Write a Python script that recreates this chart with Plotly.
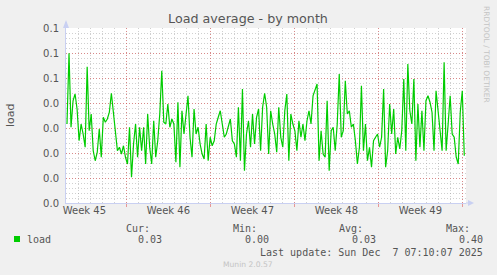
import pandas as pd
import plotly.graph_objects as go

# ---- data ----
load_values = [
    0.0316, 0.0599, 0.0303, 0.0409, 0.0436, 0.0376, 0.0249, 0.0316, 0.0276, 0.0223,
    0.0545, 0.0289, 0.0356, 0.0209, 0.0169, 0.0203, 0.0296, 0.0183, 0.0343, 0.0323,
    0.0336, 0.0363, 0.0439, 0.0369, 0.0289, 0.0209, 0.0223, 0.0196, 0.0229, 0.0183,
    0.0156, 0.0303, 0.0103, 0.0236, 0.0316, 0.0183, 0.0303, 0.0209, 0.0303, 0.0156,
    0.0356, 0.0223, 0.0156, 0.0329, 0.0183, 0.0249, 0.0356, 0.0529, 0.0323, 0.0316,
    0.0396, 0.0303, 0.0336, 0.0316, 0.0163, 0.0403, 0.0143, 0.0369, 0.0276, 0.0369,
    0.0429, 0.0263, 0.0183, 0.0376, 0.0276, 0.0303, 0.0236, 0.0196, 0.0176, 0.0316,
    0.0169, 0.0263, 0.0229, 0.0249, 0.0316, 0.0343, 0.0369, 0.0316, 0.0263,
    0.0276, 0.0303, 0.0336, 0.0249, 0.0236, 0.0183, 0.0383, 0.0169, 0.0456, 0.0129,
    0.0276, 0.0329, 0.0223, 0.0356, 0.0236, 0.0343, 0.0376, 0.0209, 0.0383, 0.0439,
    0.0383, 0.0196, 0.0369, 0.0316, 0.0276, 0.0203, 0.0383, 0.0263, 0.0223, 0.0369,
    0.0436, 0.0169, 0.0356, 0.0316, 0.0289, 0.0209, 0.0329, 0.0263, 0.0316, 0.0249,
    0.0329, 0.0369, 0.0316, 0.0429, 0.0449, 0.0476, 0.0169, 0.0289, 0.0196, 0.0183,
    0.0409, 0.0129, 0.0289, 0.0303, 0.0209, 0.0316, 0.0516, 0.0263, 0.0289, 0.0489,
    0.0356, 0.0369, 0.0303, 0.0316, 0.0249, 0.0156, 0.0223, 0.0469, 0.0209, 0.0316,
    0.0169, 0.0223, 0.0143, 0.0249, 0.0263, 0.0276, 0.0223, 0.0263, 0.0456,
    0.0143, 0.0209, 0.0396, 0.0276, 0.0376, 0.0196, 0.0263, 0.0216, 0.0289, 0.0496,
    0.0209, 0.0556, 0.0369, 0.0316, 0.0496, 0.0169, 0.0396, 0.0223, 0.0369, 0.0209,
    0.0409, 0.0429, 0.0403, 0.0363, 0.0209, 0.0449, 0.0376, 0.0303, 0.0209, 0.0563,
    0.0209, 0.0316, 0.0429, 0.0276, 0.0263, 0.0183, 0.0156, 0.0363, 0.0449, 0.0189,
]
series_start = "2025-11-04 01:10"
series_step = "242min"
times = pd.date_range(series_start, periods=len(load_values), freq=series_step)

range_start = "2025-11-03 23:10:07"
range_end = "2025-12-07 07:10:07"

week_lines = ["2025-11-09", "2025-11-16", "2025-11-23", "2025-11-30", "2025-12-07"]
week_label_pos = ["2025-11-05 12:00", "2025-11-12 12:00", "2025-11-19 12:00",
                  "2025-11-26 12:00", "2025-12-03 12:00"]
week_labels = ["Week 45", "Week 46", "Week 47", "Week 48", "Week 49"]

y_ticks = [0.0, 0.01, 0.02, 0.03, 0.04, 0.05, 0.06, 0.07]
y_labels = ["0.0", "0.0", "0.0", "0.0", "0.0", "0.1", "0.1", "0.1"]

stat_names = ["Cur:", "Min:", "Avg:", "Max:"]
stat_values = ["0.03", "0.00", "0.03", "0.40"]
series_name = "load"
last_update = "Last update: Sun Dec  7 07:10:07 2025"

# ---- figure ----
W, H = 497, 275
L, R, T, B = 66, 466, 28, 203
def px(x):
    return (x - L) / (R - L)
def py(y):
    return (B - y) / (B - T)

GREEN = "#00CC00"
MGRID = "rgba(222,79,79,0.55)"
GRID = "rgba(150,150,150,0.45)"
AXIS = "#c9d0f2"
TXT = "#555555"

fig = go.Figure()
fig.add_trace(go.Scatter(x=times, y=load_values, mode="lines",
                         line=dict(color=GREEN, width=1.2), showlegend=False,
                         hoverinfo="skip"))
fig.add_trace(go.Scatter(x=[range_start, range_end], y=[None, None], xaxis="x2",
                         mode="lines", showlegend=False, hoverinfo="skip"))

fig.update_layout(
    width=W, height=H,
    margin=dict(l=L, r=W - R, t=T, b=H - B),
    paper_bgcolor="#F0F0F0", plot_bgcolor="#FFFFFF",
    font=dict(family="DejaVu Sans", size=10, color=TXT),
    title=dict(text="Load average - by month", x=248 / W, xref="container",
               xanchor="center", y=1 - 19 / H, yref="container", yanchor="middle",
               font=dict(family="DejaVu Sans", size=12.7, color=TXT)),
    xaxis=dict(type="date", range=[range_start, range_end],
               tickmode="array", tickvals=week_lines, showticklabels=False,
               showgrid=True, gridcolor=MGRID, griddash="1px,2px", gridwidth=1,
               ticks="outside", ticklen=3, tickcolor=MGRID,
               minor=dict(dtick=86400000, tick0="2025-11-01", showgrid=True,
                          gridcolor=GRID, griddash="1px,2px", gridwidth=1, ticks=""),
               showline=True, linecolor=AXIS, linewidth=1, zeroline=False),
    xaxis2=dict(type="date", overlaying="x", matches="x", side="bottom",
                tickmode="array", tickvals=week_label_pos, ticktext=week_labels,
                showgrid=False, ticks="", showline=False, zeroline=False,
                tickfont=dict(family="DejaVu Sans", size=10, color=TXT)),
    yaxis=dict(range=[0, 0.07], tickmode="array", tickvals=y_ticks, ticktext=y_labels,
               showgrid=True, gridcolor=MGRID, griddash="1px,2px", gridwidth=1,
               minor=dict(dtick=0.002, tick0=0, showgrid=True, gridcolor=GRID,
                          griddash="1px,2px", gridwidth=1, ticks=""),
               ticks="", ticklabelstandoff=4,
               showline=True, linecolor=AXIS, linewidth=1, zeroline=False,
               tickfont=dict(family="DejaVu Sans", size=10, color=TXT)),
    showlegend=False,
)

shapes = []
# y-axis extension + arrow
shapes.append(dict(type="line", xref="paper", yref="paper", x0=px(66), x1=px(66),
                   y0=py(28), y1=py(22), line=dict(color=AXIS, width=1)))
shapes.append(dict(type="path", xref="paper", yref="paper",
                   path=f"M {px(63)} {py(28)} L {px(69)} {py(28)} L {px(66)} {py(20)} Z",
                   fillcolor=AXIS, line=dict(width=0)))
# x-axis extension + arrow
shapes.append(dict(type="line", xref="paper", yref="paper", x0=px(466), x1=px(469),
                   y0=py(203), y1=py(203), line=dict(color=AXIS, width=1)))
shapes.append(dict(type="path", xref="paper", yref="paper",
                   path=f"M {px(468)} {py(200)} L {px(468)} {py(206)} L {px(474)} {py(203)} Z",
                   fillcolor=AXIS, line=dict(width=0)))
# legend swatch
shapes.append(dict(type="rect", xref="paper", yref="paper", x0=px(14), x1=px(20),
                   y0=py(242), y1=py(236), fillcolor=GREEN, line=dict(width=0)))
fig.update_layout(shapes=shapes)

mono = dict(family="DejaVu Sans Mono", size=10, color=TXT)
ann = []
def text(x, y, s, anchor="left", font=mono, angle=0):
    ann.append(dict(x=px(x), y=py(y), xref="paper", yref="paper", text=s,
                    showarrow=False, xanchor=anchor, yanchor="middle",
                    font=font, textangle=angle, borderpad=0))

text(10, 115, "load", anchor="center",
     font=dict(family="DejaVu Sans", size=11, color=TXT), angle=-90)
text(487, 54, "RRDTOOL / TOBI OETIKER", anchor="center",
     font=dict(family="DejaVu Sans", size=7.5, color="#c4c4c4"), angle=90)
text(26, 239, series_name)
name_right = [151, 258, 364, 471]
value_right = [163, 270, 377, 484]
for n, v, nr, vr in zip(stat_names, stat_values, name_right, value_right):
    text(nr, 228, n, anchor="right")
    text(vr, 239, v, anchor="right")
text(484, 252, last_update, anchor="right")
text(248, 264, "Munin 2.0.57", anchor="center",
     font=dict(family="DejaVu Sans", size=7.6, color="#c4c4c4"))
fig.update_layout(annotations=ann)

fig.write_html("out.html")
